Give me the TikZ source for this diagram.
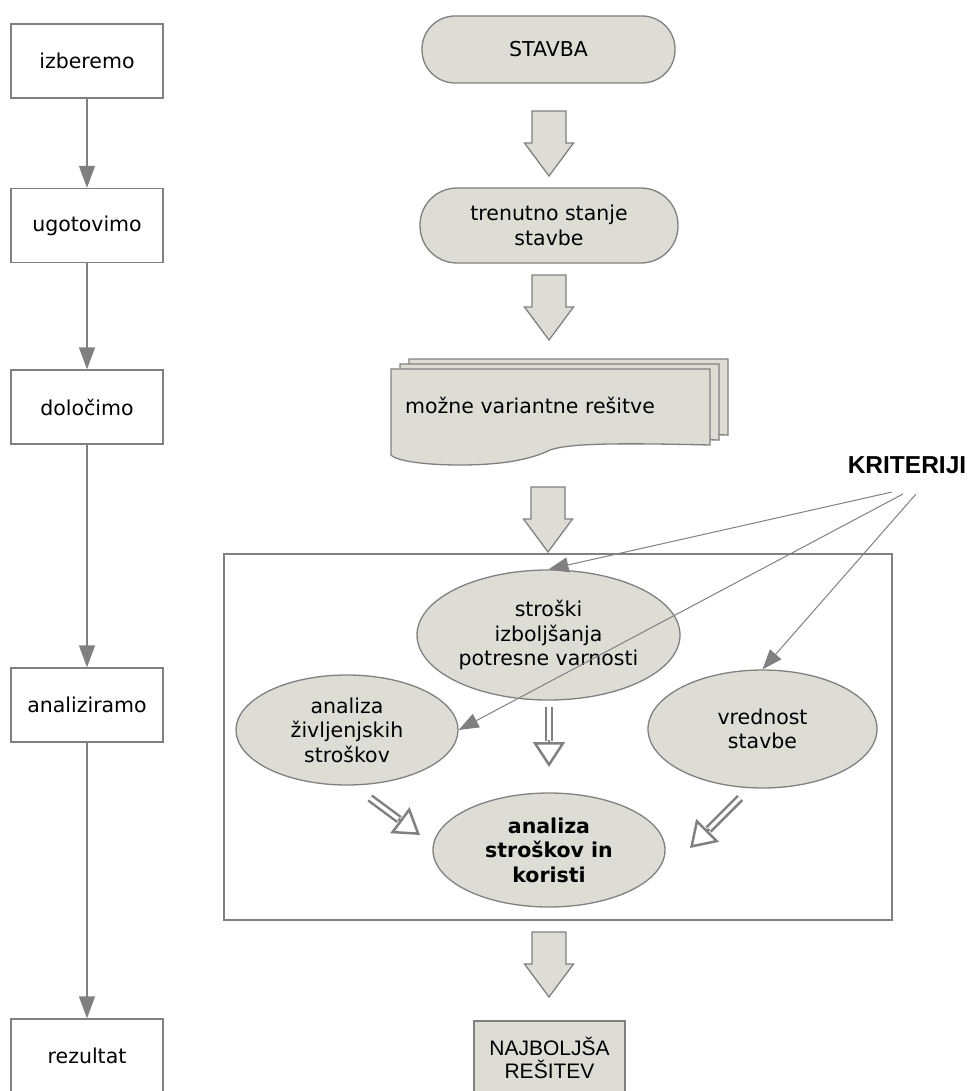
\documentclass[tikz,border=0pt]{standalone}
\usepackage{fontspec}
\setmainfont{DejaVu Sans}
\newfontfamily\arialfont{Liberation Sans}
\usetikzlibrary{arrows.meta,shapes.geometric,calc}
\definecolor{shapefill}{RGB}{221,221,213}
\definecolor{edgegray}{RGB}{128,128,128}
\tikzset{
  txt/.style={font=\fontsize{20.5}{24.5}\selectfont, align=center, text=black},
  stepbox/.style={txt, draw=edgegray, line width=1.3pt, fill=white,
    minimum width=152pt, minimum height=74pt, inner sep=0pt},
  terminal/.style={txt, draw=edgegray, line width=1.3pt, fill=shapefill, inner sep=0pt},
  oval/.style={txt, ellipse, draw=edgegray, line width=1.3pt, fill=shapefill, inner sep=0pt},
  flowarrow/.style={draw=edgegray, line width=1.3pt, -{Triangle[length=22pt,width=16pt]}},
  critarrow/.style={draw=edgegray, line width=1pt, -{Triangle[length=20pt,width=15pt]}},
  hollowshaft/.style={draw=edgegray, line width=2.5pt, double=white, double distance=3.5pt},
  hollowtip/.style={draw=edgegray, line width=2.5pt, -{Triangle[open,length=25pt,width=32pt]}},
  page/.style={draw=edgegray, line width=1.3pt, fill=shapefill},
  bigarrow/.pic={
    \draw[edgegray, line width=1.3pt, fill=shapefill, line join=miter]
      (-17,0) -- (17,0) -- (17,32) -- (24.5,32) -- (0,65) -- (-24.5,32) -- (-17,32) -- cycle;
  }
}
\begin{document}
\begin{tikzpicture}[x=1pt,y=-1pt]
\useasboundingbox (0,0) rectangle (969,1091);
\clip (0,0) rectangle (969,1091);

% left column: process steps
\node[stepbox] (izb) at (87,61) {izberemo};
\node[stepbox] (ugo) at (87,225.5) {ugotovimo};
\node[stepbox] (dol) at (87,407) {določimo};
\node[stepbox] (ana) at (87,705) {analiziramo};
\node[stepbox] (rez) at (87,1056) {rezultat};
\draw[flowarrow] (izb.south) -- (ugo.north);
\draw[flowarrow] (ugo.south) -- (dol.north);
\draw[flowarrow] (dol.south) -- (ana.north);
\draw[flowarrow] (ana.south) -- (rez.north);

% right column
\node[terminal, minimum width=253pt, minimum height=67pt, rounded corners=33pt] (stavba) at (548.5,49.5) {STAVBA};
\node[terminal, minimum width=258pt, minimum height=75pt, rounded corners=37pt] (stanje) at (549,225.5) {trenutno stanje\\stavbe};

% stacked documents
\foreach \k in {2,1,0}{
  \begin{scope}[shift={(9*\k,-5*\k)}]
    \draw[page] (391,369) -- (710,369) -- (710,445)
      .. controls (620,443) and (570,443) .. (550,450)
      .. controls (530,460) and (500,465) .. (460,465)
      .. controls (420,465) and (395,460) .. (391,455) -- cycle;
  \end{scope}
}
\node[txt] (var) at (530,405) {možne variantne rešitve};

\pic at (549,111) {bigarrow};
\pic at (549,275) {bigarrow};
\pic at (548,487) {bigarrow};

% evaluation frame
\node[draw=edgegray, line width=1.3pt, minimum width=668pt, minimum height=366pt, inner sep=0pt] (frame) at (558,737) {};

\node[oval, minimum width=263pt, minimum height=130pt] (spv) at (548.5,635) {stroški\\izboljšanja\\potresne varnosti};
\node[oval, minimum width=222pt, minimum height=110pt] (zs) at (347,730) {analiza\\življenjskih\\stroškov};
\node[oval, minimum width=229pt, minimum height=118pt] (vs) at (762.5,729) {vrednost\\stavbe};
\node[oval, minimum width=232pt, minimum height=114pt, font=\fontsize{20.5}{24.5}\selectfont\bfseries] (ask) at (549,850) {analiza\\stroškov in\\koristi};

% criteria
\node[font=\arialfont\bfseries\fontsize{24.5}{28}\selectfont, inner sep=0pt] (krit) at (907,465) {KRITERIJI};
\coordinate (k1) at (892,492);
\coordinate (k2) at (903,494);
\coordinate (k3) at (916,494);
\draw[critarrow] (k1) -- (spv.north);
\draw[critarrow] (k2) -- (zs.east);
\draw[critarrow] (k3) -- (vs.north);

% hollow implication arrows into the cost-benefit analysis
\coordinate (s1) at (549,707);  \coordinate (t1) at (549,767);
\coordinate (s2) at (370,798);  \coordinate (t2) at (420,835);
\coordinate (s3) at (740,798);  \coordinate (t3) at (690,848);
\foreach \s/\t in {s1/t1,s2/t2,s3/t3}{
  \draw[hollowshaft] (\s) -- ($(\t)!26pt!(\s)$);
  \draw[hollowtip] ($(\t)!27pt!(\s)$) -- (\t);
}

\pic at (549,932) {bigarrow};
\node[draw=edgegray, fill=shapefill, line width=1.3pt, minimum width=151pt, minimum height=74pt,
  font=\arialfont\fontsize{21}{23}\selectfont, align=center, inner sep=0pt] (best) at (549.5,1058) {NAJBOLJŠA\\REŠITEV};
\end{tikzpicture}
\end{document}
